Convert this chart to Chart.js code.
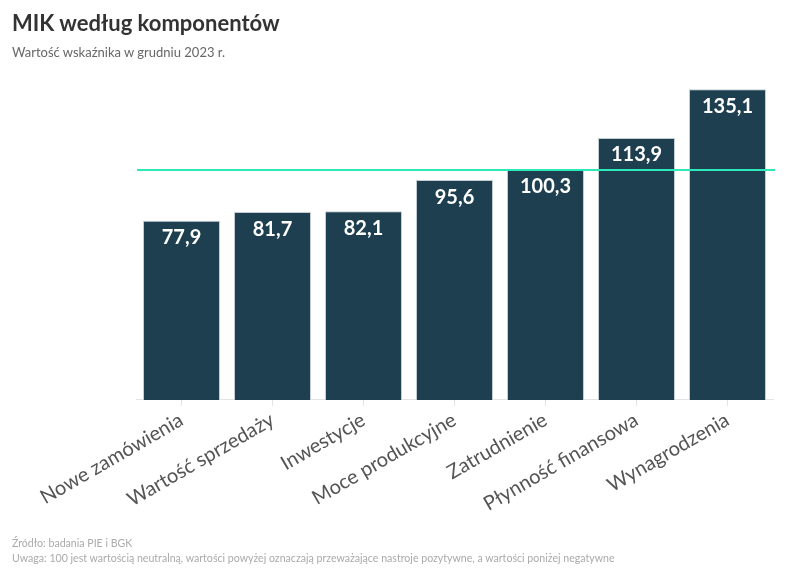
<!DOCTYPE html>
<html><head><meta charset="utf-8">
<script src="https://cdn.jsdelivr.net/npm/chart.js@4.4.0/dist/chart.umd.min.js"></script>
<style>
html,body{margin:0;padding:0;background:#fff;width:796px;height:575px;overflow:hidden;font-family:Lato,"Noto Sans",sans-serif;}
#t{position:absolute;left:12px;top:9px;font-size:22px;font-weight:700;color:#333;}
#s{position:absolute;left:12px;top:44px;font-size:13px;color:#666;}
#f{position:absolute;left:12px;top:536px;font-size:10.6px;color:#aaa;line-height:15px;}
#wrap{position:absolute;left:0;top:0;width:796px;height:575px;}
</style></head><body>
<div id="wrap"><canvas id="c" width="796" height="575"></canvas></div>
<div id="t">MIK według komponentów</div>
<div id="s">Wartość wskaźnika w grudniu 2023 r.</div>
<div id="f">Źródło: badania PIE i BGK<br>Uwaga: 100 jest wartością neutralną, wartości powyżej oznaczają przeważające nastroje pozytywne, a wartości poniżej negatywne</div>
<script>
const categories = ["Nowe zamówienia","Wartość sprzedaży","Inwestycje","Moce produkcyjne","Zatrudnienie","Płynność finansowa","Wynagrodzenia"];
const values = [77.9, 81.7, 82.1, 95.6, 100.3, 113.9, 135.1];
const neutralValue = 100;

const refLine = {
  id:'refLine',
  afterDatasetsDraw(chart){
    const {ctx, chartArea, scales} = chart;
    const y = scales.y.getPixelForValue(neutralValue);
    ctx.save();
    ctx.strokeStyle = '#2de8b9';
    ctx.lineWidth = 2;
    ctx.beginPath();
    ctx.moveTo(chartArea.left+1, y);
    ctx.lineTo(chartArea.right+2, y);
    ctx.stroke();
    ctx.restore();
  }
};
const labelsPlugin = {
  id:'barLabels',
  afterDraw(chart){
    const {ctx} = chart;
    const meta = chart.getDatasetMeta(0);
    ctx.save();
    ctx.fillStyle = '#fff';
    ctx.font = 'bold 20px Lato, "Noto Sans", sans-serif';
    ctx.textAlign = 'center';
    ctx.textBaseline = 'middle';
    meta.data.forEach((bar,i)=>{
      ctx.fillText(values[i].toFixed(1).replace('.', ','), bar.x, bar.y + 17);
    });
    ctx.restore();
  }
};

new Chart(document.getElementById('c'), {
  type:'bar',
  data:{labels:categories, datasets:[{data:values, backgroundColor:'#1d3f4f', borderColor:'rgba(190,200,205,0.9)', borderWidth:1, categoryPercentage:1, barPercentage:0.846}]},
  options:{
    responsive:false, animation:false, devicePixelRatio:1,
    layout:{padding:{left:136, right:23, top:78, bottom:57}},
    plugins:{legend:{display:false}, tooltip:{enabled:false}},
    scales:{
      y:{display:false, min:0, max:140},
      x:{
        grid:{display:true, drawOnChartArea:false, offset:false, color:'#e3e3e3', tickLength:6},
        border:{display:true, color:'#e3e3e3'},
        ticks:{color:'#555', font:{family:'Lato, "Noto Sans", sans-serif', size:20}, maxRotation:30, minRotation:30, padding:2, autoSkip:false}
      }
    }
  },
  plugins:[refLine, labelsPlugin]
});
</script>
</body></html>
